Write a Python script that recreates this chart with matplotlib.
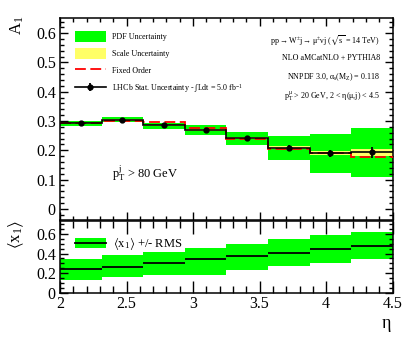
import numpy as np
import matplotlib
matplotlib.use("Agg")
import matplotlib.pyplot as plt
from matplotlib.patches import Patch
from matplotlib.lines import Line2D
from matplotlib.ticker import MultipleLocator

plt.rcParams['font.family'] = ['Liberation Serif', 'DejaVu Serif']
plt.rcParams['mathtext.fontset'] = 'custom'
plt.rcParams['mathtext.rm'] = 'Liberation Serif'
plt.rcParams['mathtext.it'] = 'Liberation Serif'
plt.rcParams['mathtext.fallback'] = 'stix'

# ---------------- data ----------------
eta_edges = [2.0, 2.3125, 2.625, 2.9375, 3.25, 3.5625, 3.875, 4.1875, 4.5]
a1_central = [0.292, 0.303, 0.285, 0.269, 0.241, 0.209, 0.190, 0.193]
a1_stat = [0.004, 0.004, 0.005, 0.006, 0.008, 0.0095, 0.0125, 0.019]
pdf_lo = [0.284, 0.296, 0.273, 0.252, 0.218, 0.167, 0.122, 0.110]
pdf_hi = [0.300, 0.313, 0.292, 0.286, 0.261, 0.249, 0.256, 0.275]
scale_lo = [0.289, 0.300, 0.282, 0.266, 0.237, 0.204, 0.184, 0.182]
scale_hi = [0.295, 0.306, 0.288, 0.272, 0.245, 0.214, 0.196, 0.2045]
fixed_order = [0.293, 0.299, 0.296, 0.277, 0.238, 0.205, 0.190, 0.178]

x1_mean = [0.240, 0.267, 0.300, 0.342, 0.376, 0.410, 0.450, 0.480]
x1_rms_lo = [0.132, 0.160, 0.183, 0.183, 0.233, 0.274, 0.308, 0.342]
x1_rms_hi = [0.342, 0.386, 0.420, 0.460, 0.500, 0.548, 0.589, 0.622]

xticks = [2, 2.5, 3, 3.5, 4, 4.5]
xticklabels = ['2', '2.5', '3', '3.5', '4', '4.5']
a1_ticks = [0, 0.1, 0.2, 0.3, 0.4, 0.5, 0.6]
a1_ticklabels = ['0', '0.1', '0.2', '0.3', '0.4', '0.5', '0.6']
x1_ticks = [0, 0.2, 0.4, 0.6]
x1_ticklabels = ['0', '0.2', '0.4', '0.6']

# ---------------- figure ----------------
W, H = 415, 351
fig = plt.figure(figsize=(W / 100, H / 100), dpi=100)

def fx(px):
    return px / W

def fy(py):
    return 1 - py / H

L, R = 60, 392.7
ax1 = fig.add_axes([fx(L), fy(220), fx(R) - fx(L), fy(18) - fy(220)])
ax2 = fig.add_axes([fx(L), fy(293), fx(R) - fx(L), fy(221) - fy(293)])

edges = np.array(eta_edges)
left = edges[:-1]
width = np.diff(edges)
centers = left + width / 2

GREEN = '#00ff00'
YELLOW = '#ffff66'

# top panel
ax1.bar(left, np.array(pdf_hi) - np.array(pdf_lo), bottom=pdf_lo, width=width,
        align='edge', color=GREEN, linewidth=0, zorder=1)
ax1.bar(left, np.array(scale_hi) - np.array(scale_lo), bottom=scale_lo, width=width,
        align='edge', color=YELLOW, linewidth=0, zorder=2)
ax1.stairs(fixed_order, edges, baseline=None, color='#ff0000', linewidth=1.3,
           linestyle=(0, (6, 2.5)), zorder=3)
ax1.stairs(a1_central, edges, baseline=None, color='black', linewidth=1.2, zorder=4)
eb = ax1.errorbar(centers, a1_central, yerr=a1_stat, fmt='o', color='black',
                  markersize=3.5, elinewidth=1.3, capsize=0, zorder=5)

ax1.set_xlim(2, 4.5)
ax1.set_ylim(-0.038, 0.652)

# bottom panel
ax2.bar(left, np.array(x1_rms_hi) - np.array(x1_rms_lo), bottom=x1_rms_lo, width=width,
        align='edge', color=GREEN, linewidth=0, zorder=1)
ax2.hlines(x1_mean, left, left + width, color='black', linewidth=1.3, zorder=3)
ax2.set_xlim(2, 4.5)
ax2.set_ylim(0, 0.73)

tick_fs = 11.5
for ax in (ax1, ax2):
    ax.set_xticks(xticks)
    ax.xaxis.set_minor_locator(MultipleLocator(0.1))
    for s in ax.spines.values():
        s.set_linewidth(1.1)

ax1.set_xticklabels([])
ax2.set_xticklabels(xticklabels, fontsize=tick_fs)
ax1.set_yticks(a1_ticks)
ax1.set_yticklabels(a1_ticklabels, fontsize=tick_fs)
ax1.yaxis.set_minor_locator(MultipleLocator(0.02))
ax2.set_yticks(x1_ticks)
ax2.set_yticklabels(x1_ticklabels, fontsize=tick_fs)
ax2.yaxis.set_minor_locator(MultipleLocator(0.05))

ax1.tick_params(which='both', direction='in', top=True, right=True, width=1.0)
ax1.tick_params(which='major', length=5.5, pad=3)
ax1.tick_params(which='minor', length=3)
ax2.tick_params(which='both', direction='in', top=True, right=True, width=1.0)
ax2.tick_params(axis='x', which='major', length=9, pad=2)
ax2.tick_params(axis='x', which='minor', length=5)
ax2.tick_params(axis='y', which='major', length=5.5, pad=3)
ax2.tick_params(axis='y', which='minor', length=3)

# legends
h_pdf = Patch(facecolor=GREEN, edgecolor='none')
h_scale = Patch(facecolor=YELLOW, edgecolor='none')
h_fixed = Line2D([], [], color='#ff0000', linewidth=1.3, linestyle=(0, (6, 2.5)))
h_line = Line2D([], [], color='black', linewidth=1.2)
leg1 = ax1.legend([h_pdf, h_scale, h_fixed, (h_line, eb)],
                  ['PDF Uncertainty', 'Scale Uncertainty', 'Fixed Order',
                   r'LHCb Stat. Uncertainty - $\int$Ldt = 5.0 fb$^{-1}$'],
                  loc='upper left', bbox_to_anchor=(0.045, 0.936), borderaxespad=0,
                  borderpad=0, frameon=False, fontsize=5.8, handlelength=3.8,
                  handleheight=1.75, handletextpad=0.85, labelspacing=0.75)

h_x1 = Patch(facecolor=GREEN, edgecolor='none')
h_x1l = Line2D([], [], color='black', linewidth=1.3)
ax2.legend([(h_x1, h_x1l)], [r'$\langle$x$_1\rangle$ +/- RMS'],
           loc='upper left', bbox_to_anchor=(0.045, 0.80), borderaxespad=0,
           borderpad=0, frameon=False, fontsize=9, handlelength=2.5,
           handleheight=0.95, handletextpad=0.55)

# text annotations
info = [r'pp$\rightarrow$W$^{\pm}$j$\rightarrow\mu^{\pm}\nu$j ($\sqrt{\rm s}$ = 14 TeV)',
        r'NLO aMCatNLO + PYTHIA8',
        r'NNPDF 3.0, $\alpha_{\rm s}$(M$_{\rm Z}$) = 0.118',
        r'p$_{\rm T}^{\mu}$ > 20 GeV, 2 < $\eta$($\mu$,j) < 4.5']
for txt, ypix in zip(info, [40, 58, 77, 96]):
    ax1.text(0.962, (220 - ypix) / 202, txt, transform=ax1.transAxes,
             ha='right', va='center', fontsize=5.8)

ax1.text(0.156, (220 - 173) / 202, r'p$_{\rm T}^{\rm j}$ > 80 GeV', transform=ax1.transAxes,
         ha='left', va='center', fontsize=9)

fig.text(fx(17), fy(16), r'A$_1$', rotation=90, ha='center', va='top', fontsize=12)
fig.text(fx(16), fy(220), r'$\langle$x$_1\rangle$', rotation=90, ha='center', va='top',
         fontsize=12)
fig.text(fx(386), fy(325), r'$\eta$', ha='center', va='center', fontsize=13)

fig.savefig('out.png', dpi=100)
